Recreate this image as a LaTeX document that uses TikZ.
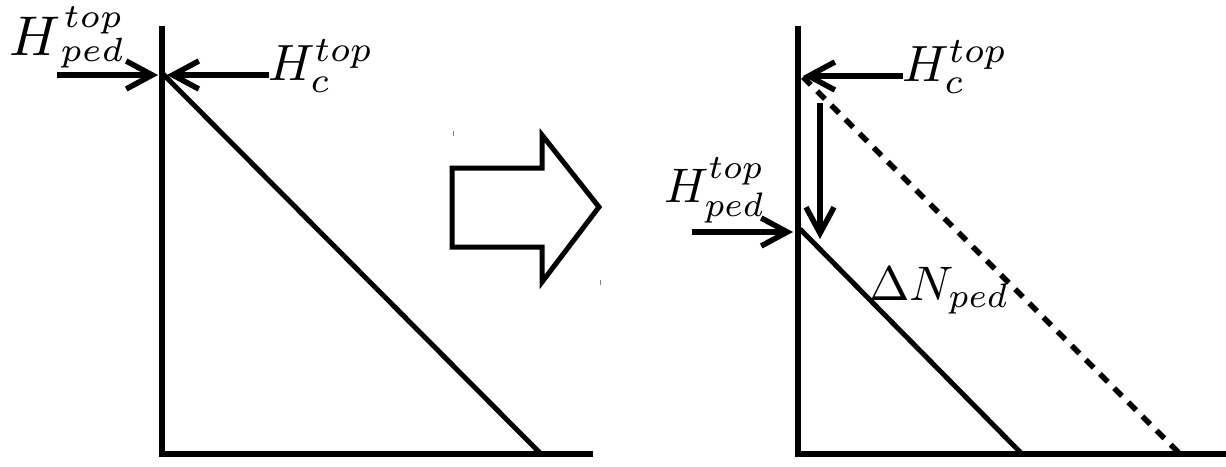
\documentclass[tikz,border=0pt]{standalone}
\usepackage{graphicx}
\usetikzlibrary{arrows.meta}
\newcommand{\mathlabel}[2]{\scalebox{#1}{\fontsize{10}{12}\selectfont$#2$}}
\newcommand{\scriptsix}[1]{{\fontsize{6}{7}\selectfont$#1$}}
\begin{document}
\begin{tikzpicture}[x=1pt,y=-1pt,
  axis/.style={line width=5.5pt},
  ln/.style={line width=5pt},
  dsh/.style={line width=5.5pt,dash pattern=on 11pt off 9pt},
  arr/.style={line width=5.5pt,-{Straight Barb[length=26pt,width=28pt,line width=5.5pt]}},
  lab/.style={inner sep=0pt,anchor=base west},
  tick/.style={line width=1pt,black!50}]
\useasboundingbox (0,0) rectangle (1226,466);
% left panel
\coordinate (LT) at (162,26);
\coordinate (LO) at (162,454);
\coordinate (LR) at (593,454);
\coordinate (LA) at (163,74);
\coordinate (LB) at (541,454);
\draw[axis] (LT) -- (LO) -- (LR);
\draw[ln] (LA) -- (LB);
\coordinate (LPs) at (57,75);
\coordinate (LPe) at (158,75);
\coordinate (LCs) at (269,75);
\coordinate (LCe) at (167,75);
\draw[arr] (LPs) -- (LPe);
\draw[arr] (LCs) -- (LCe);
\node[lab] (lped) at (9,55) {\scalebox{5.6}{\fontsize{10}{12}\selectfont$H$\rlap{\kern0.6pt\raisebox{5pt}{\scriptsix{top}}}\raisebox{-1.2pt}{\scriptsix{ped}}}};
\node[lab] (lc) at (268,80) {\mathlabel{5.1}{H_{c}^{top}}};
% big arrow
\draw[line width=5pt,line join=miter] (452,168) -- (542,168) -- (542,135) -- (599,207) -- (542,282) -- (542,247) -- (452,247) -- cycle;
\draw[tick] (453,131) -- (453,136);
\draw[tick] (600,280) -- (600,285);
% right panel
\coordinate (RT) at (798,26);
\coordinate (RO) at (798,454);
\coordinate (RR) at (1226,454);
\draw[axis] (RT) -- (RO) -- (RR);
\coordinate (RA) at (800,229);
\coordinate (RB) at (1022,454);
\draw[ln] (RA) -- (RB);
\coordinate (RDa) at (803,77);
\coordinate (RDb) at (1180,454);
\draw[dsh] (RDa) -- (RDb);
\coordinate (RCs) at (903,76);
\coordinate (RCe) at (803,76);
\draw[arr] (RCs) -- (RCe);
\coordinate (RVs) at (820,103);
\coordinate (RVe) at (820,239);
\draw[arr] (RVs) -- (RVe);
\coordinate (RPs) at (692,232);
\coordinate (RPe) at (793,232);
\draw[arr] (RPs) -- (RPe);
\node[lab] (rc) at (902,81) {\mathlabel{5.1}{H_{c}^{top}}};
\node[lab] (rped) at (664,202) {\mathlabel{4.85}{H_{ped}^{top}}};
\node[lab] (dn) at (869,300) {\mathlabel{4.85}{\Delta N_{ped}}};
\end{tikzpicture}
\end{document}
